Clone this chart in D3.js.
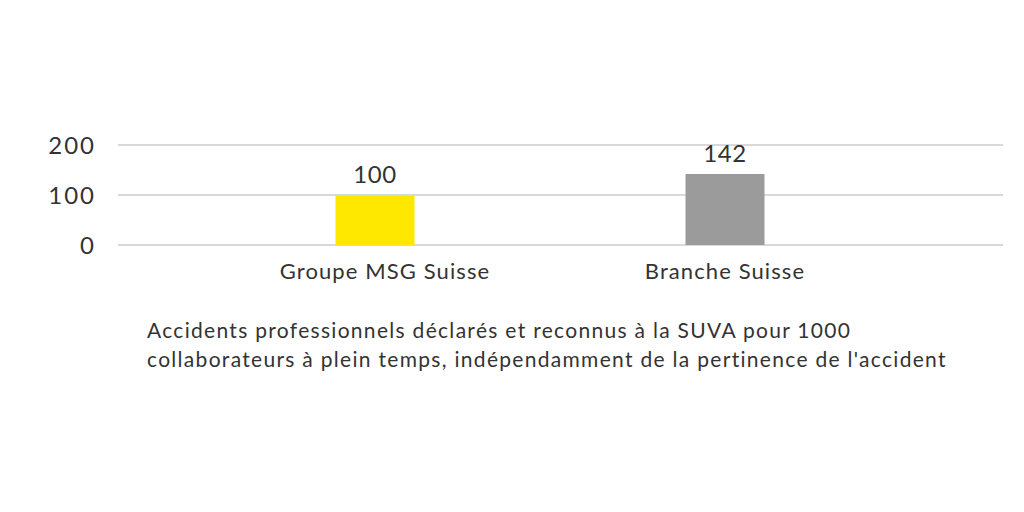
<!DOCTYPE html>
<html><head><meta charset="utf-8">
<script src="https://cdn.jsdelivr.net/npm/d3@7"></script>
<style>body{margin:0;background:#fff}svg{display:block}text{font-family:Lato,"Open Sans",sans-serif;font-weight:400;fill:#333}</style>
</head><body>
<svg id="c" width="1024" height="512"></svg>
<script>
const categories = ["Groupe MSG Suisse", "Branche Suisse"];
const values = [100, 142];
const colors = ["#FFE800", "#9B9B9B"];
const yTicks = [0, 100, 200];
const noteLines = [
  "Accidents professionnels déclarés et reconnus à la SUVA pour 1000",
  "collaborateurs à plein temps, indépendamment de la pertinence de l'accident"
];

const svg = d3.select("#c");
const y = d3.scaleLinear().domain([0, 200]).range([245, 145]);
const x = d3.scaleBand().domain(categories).range([200, 900]).paddingInner(0.55).paddingOuter(0.275);
const gridX0 = 118, gridX1 = 1003;

svg.append("g").selectAll("line").data(yTicks).join("line")
  .attr("x1", gridX0).attr("x2", gridX1)
  .attr("y1", d => y(d)).attr("y2", d => y(d))
  .attr("stroke", "#d9d9d9").attr("stroke-width", 2);

svg.append("g").selectAll("text").data(yTicks).join("text")
  .attr("x", 96).attr("y", d => y(d)).attr("dy", "0.36em")
  .attr("text-anchor", "end").attr("font-size", 24).attr("letter-spacing", 2).text(d => d);

const bw = 79;
svg.append("g").selectAll("rect").data(values).join("rect")
  .attr("x", (d, i) => x(categories[i]) + x.bandwidth() / 2 - bw / 2)
  .attr("width", bw)
  .attr("y", d => y(d)).attr("height", d => y(0) - y(d))
  .attr("fill", (d, i) => colors[i]);

svg.append("g").selectAll("text").data(values).join("text")
  .attr("x", (d, i) => x(categories[i]) + x.bandwidth() / 2)
  .attr("y", d => y(d) - 12)
  .attr("text-anchor", "middle").attr("font-size", 24).attr("letter-spacing", 0.5).text(d => d);

svg.append("g").selectAll("text").data(categories).join("text")
  .attr("x", (d, i) => x(d) + x.bandwidth() / 2 + (i === 0 ? 10 : 0))
  .attr("y", 279)
  .attr("text-anchor", "middle").attr("font-size", 22).attr("letter-spacing", 1.1).text(d => d);

svg.append("g").selectAll("text").data(noteLines).join("text")
  .attr("x", 147).attr("y", (d, i) => 338 + i * 29)
  .attr("font-size", 21).attr("letter-spacing", 1.3).text(d => d);
</script>
</body></html>
